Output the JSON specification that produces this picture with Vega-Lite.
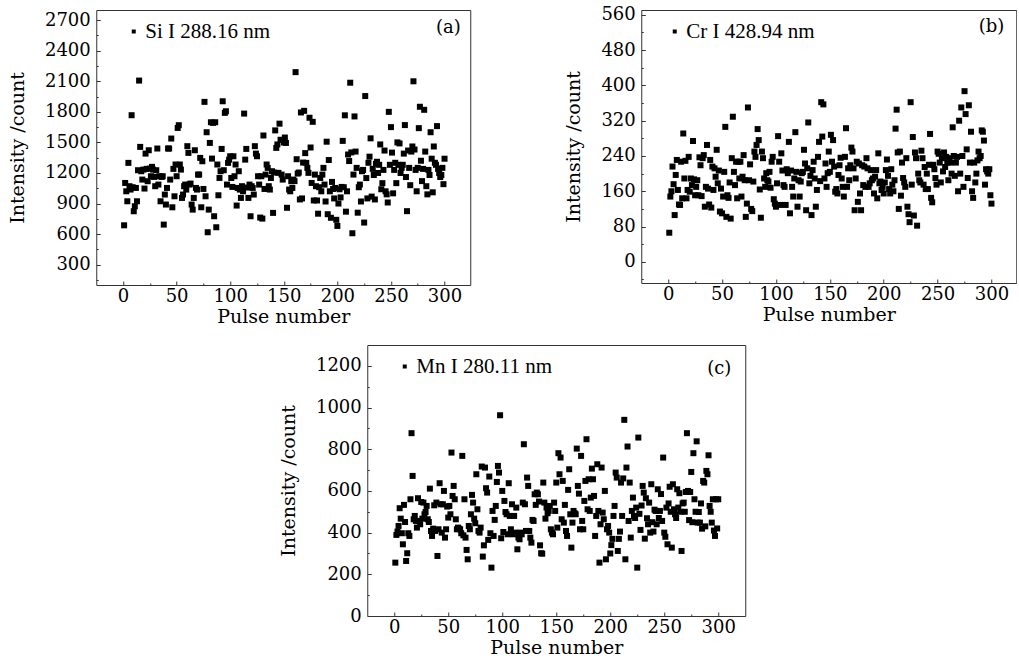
{
"$schema": "https://vega.github.io/schema/vega-lite/v6.json",
"background": "white",
"padding": {"left": 7, "top": 5, "right": 0, "bottom": 0},
"config": {
  "font": "DejaVu Serif",
  "view": {"stroke": "#333", "strokeWidth": 1},
  "axis": {"domain": false, "grid": false, "tickSize": -4, "tickColor": "#333", "tickWidth": 1, "labelFontSize": 18, "labelColor": "#000", "titleFontSize": 19, "titleFontWeight": "normal", "titleColor": "#000", "labelFlush": false, "labelOverlap": false, "format": "d"},
  "axisX": {"titlePadding": 2, "labelPadding": 6},
  "axisY": {"titlePadding": 17, "labelPadding": 10},
  "legend": {"orient": "top-left", "offset": 11, "padding": 0, "symbolType": "square", "symbolSize": 16, "symbolOffset": 16, "labelOffset": 1, "labelFont": "Liberation Serif", "labelFontSize": 21, "labelColor": "#000", "symbolStrokeWidth": 0, "symbolFillColor": "#000"}
},
"datasets": {
"a": [
{"p":1,"v":686},{"p":2,"v":1102},{"p":3,"v":1020},{"p":4,"v":922},{"p":5,"v":1299},{"p":6,"v":1070},{"p":7,"v":1037},{"p":8,"v":1767},{"p":9,"v":1060},{"p":10,"v":824},
{"p":11,"v":873},{"p":12,"v":1053},{"p":13,"v":922},{"p":14,"v":1227},{"p":15,"v":2107},{"p":16,"v":1456},{"p":17,"v":1217},{"p":18,"v":1135},{"p":19,"v":1233},{"p":20,"v":1047},
{"p":21,"v":1390},{"p":22,"v":1240},{"p":23,"v":1119},{"p":24,"v":1423},{"p":25,"v":1243},{"p":26,"v":1168},{"p":27,"v":1260},{"p":28,"v":1233},{"p":29,"v":1161},{"p":30,"v":1070},
{"p":31,"v":1227},{"p":32,"v":1440},{"p":33,"v":1086},{"p":34,"v":1168},{"p":35,"v":922},{"p":36,"v":1161},{"p":37,"v":1168},{"p":38,"v":693},{"p":39,"v":988},{"p":40,"v":890},
{"p":41,"v":1053},{"p":42,"v":1440},{"p":43,"v":1440},{"p":44,"v":1135},{"p":45,"v":1538},{"p":46,"v":863},{"p":47,"v":1240},{"p":48,"v":971},{"p":49,"v":1283},{"p":50,"v":1168},
{"p":51,"v":1642},{"p":52,"v":1669},{"p":53,"v":1283},{"p":54,"v":1233},{"p":55,"v":955},{"p":56,"v":988},{"p":57,"v":1070},{"p":58,"v":1086},{"p":59,"v":1037},{"p":60,"v":1463},
{"p":61,"v":1397},{"p":62,"v":1086},{"p":63,"v":1096},{"p":64,"v":890},{"p":65,"v":840},{"p":66,"v":955},{"p":67,"v":1423},{"p":68,"v":1053},{"p":69,"v":1037},{"p":70,"v":1184},
{"p":71,"v":1184},{"p":72,"v":1348},{"p":73,"v":863},{"p":74,"v":1315},{"p":75,"v":1043},{"p":76,"v":1898},{"p":77,"v":971},{"p":78,"v":1600},{"p":79,"v":618},{"p":80,"v":840},
{"p":81,"v":1495},{"p":82,"v":1698},{"p":83,"v":1341},{"p":84,"v":1692},{"p":85,"v":775},{"p":86,"v":1698},{"p":87,"v":667},{"p":88,"v":1283},{"p":89,"v":981},{"p":90,"v":1151},
{"p":91,"v":1217},{"p":92,"v":1436},{"p":93,"v":1904},{"p":94,"v":1227},{"p":95,"v":1790},{"p":96,"v":1806},{"p":97,"v":1086},{"p":98,"v":1299},{"p":99,"v":1331},{"p":100,"v":1364},
{"p":101,"v":1151},{"p":102,"v":1063},{"p":103,"v":1364},{"p":104,"v":1168},{"p":105,"v":1283},{"p":106,"v":880},{"p":107,"v":1053},{"p":108,"v":1217},{"p":109,"v":1037},{"p":110,"v":955},
{"p":111,"v":1070},{"p":112,"v":1020},{"p":113,"v":1783},{"p":114,"v":1331},{"p":115,"v":1436},{"p":116,"v":1057},{"p":117,"v":955},{"p":118,"v":1086},{"p":119,"v":775},{"p":120,"v":1070},
{"p":121,"v":1053},{"p":122,"v":988},{"p":123,"v":1463},{"p":124,"v":1390},{"p":125,"v":1364},{"p":126,"v":1168},{"p":127,"v":1086},{"p":128,"v":762},{"p":129,"v":1168},{"p":130,"v":752},
{"p":131,"v":1568},{"p":132,"v":1043},{"p":133,"v":1184},{"p":134,"v":1283},{"p":135,"v":1250},{"p":136,"v":1070},{"p":137,"v":1037},{"p":138,"v":1151},{"p":139,"v":1217},{"p":140,"v":808},
{"p":141,"v":1204},{"p":142,"v":1618},{"p":143,"v":1446},{"p":144,"v":1480},{"p":145,"v":1201},{"p":146,"v":1684},{"p":147,"v":1526},{"p":148,"v":1184},{"p":149,"v":1135},{"p":150,"v":1499},
{"p":151,"v":1548},{"p":152,"v":1495},{"p":153,"v":858},{"p":154,"v":1168},{"p":155,"v":1037},{"p":156,"v":1020},{"p":157,"v":1119},{"p":158,"v":1053},{"p":159,"v":1135},{"p":160,"v":1120},
{"p":161,"v":2190},{"p":162,"v":1335},{"p":163,"v":1194},{"p":164,"v":1204},{"p":165,"v":940},{"p":166,"v":1794},{"p":167,"v":950},{"p":168,"v":1302},{"p":169,"v":1810},{"p":170,"v":1395},
{"p":171,"v":1299},{"p":172,"v":1250},{"p":173,"v":1201},{"p":174,"v":1742},{"p":175,"v":1450},{"p":176,"v":1102},{"p":177,"v":1702},{"p":178,"v":930},{"p":179,"v":1184},{"p":180,"v":1070},
{"p":181,"v":930},{"p":182,"v":800},{"p":183,"v":1060},{"p":184,"v":1151},{"p":185,"v":1020},{"p":186,"v":1184},{"p":187,"v":1250},{"p":188,"v":1086},{"p":189,"v":920},{"p":190,"v":1507},
{"p":191,"v":795},{"p":192,"v":1327},{"p":193,"v":1020},{"p":194,"v":760},{"p":195,"v":1112},{"p":196,"v":1043},{"p":197,"v":950},{"p":198,"v":1053},{"p":199,"v":740},{"p":200,"v":680},
{"p":201,"v":900},{"p":202,"v":1040},{"p":203,"v":960},{"p":204,"v":1063},{"p":205,"v":1515},{"p":206,"v":1060},{"p":207,"v":1766},{"p":208,"v":820},{"p":209,"v":1020},{"p":210,"v":1381},
{"p":211,"v":1317},{"p":212,"v":2086},{"p":213,"v":1402},{"p":214,"v":608},{"p":215,"v":1184},{"p":216,"v":1755},{"p":217,"v":1410},{"p":218,"v":1250},{"p":219,"v":810},{"p":220,"v":1060},
{"p":221,"v":1086},{"p":222,"v":920},{"p":223,"v":1217},{"p":224,"v":1230},{"p":225,"v":713},{"p":226,"v":1955},{"p":227,"v":1150},{"p":228,"v":950},{"p":229,"v":1300},{"p":230,"v":1360},
{"p":231,"v":1540},{"p":232,"v":968},{"p":233,"v":1240},{"p":234,"v":1180},{"p":235,"v":940},{"p":236,"v":1290},{"p":237,"v":1310},{"p":238,"v":1200},{"p":239,"v":1280},{"p":240,"v":1480},
{"p":241,"v":1040},{"p":242,"v":1100},{"p":243,"v":1230},{"p":244,"v":1420},{"p":245,"v":1020},{"p":246,"v":990},{"p":247,"v":910},{"p":248,"v":1800},{"p":249,"v":1280},{"p":250,"v":1650},
{"p":251,"v":1400},{"p":252,"v":1000},{"p":253,"v":1230},{"p":254,"v":1300},{"p":255,"v":1100},{"p":256,"v":1500},{"p":257,"v":1280},{"p":258,"v":1490},{"p":259,"v":1200},{"p":260,"v":1250},
{"p":261,"v":1280},{"p":262,"v":1390},{"p":263,"v":1670},{"p":264,"v":1160},{"p":265,"v":825},{"p":266,"v":1420},{"p":267,"v":1250},{"p":268,"v":1080},{"p":269,"v":1410},{"p":270,"v":1460},
{"p":271,"v":2100},{"p":272,"v":1430},{"p":273,"v":1230},{"p":274,"v":1020},{"p":275,"v":1250},{"p":276,"v":1640},{"p":277,"v":1850},{"p":278,"v":1320},{"p":279,"v":1120},{"p":280,"v":1240},
{"p":281,"v":1820},{"p":282,"v":1410},{"p":283,"v":1070},{"p":284,"v":990},{"p":285,"v":1230},{"p":286,"v":1180},{"p":287,"v":1600},{"p":288,"v":1340},{"p":289,"v":1010},{"p":290,"v":1460},
{"p":291,"v":1300},{"p":292,"v":1280},{"p":293,"v":1660},{"p":294,"v":1240},{"p":295,"v":1200},{"p":296,"v":1160},{"p":297,"v":1180},{"p":298,"v":1250},{"p":299,"v":1090},{"p":300,"v":1340}
],
"b": [
{"p":1,"v":66},{"p":2,"v":148},{"p":3,"v":160},{"p":4,"v":216},{"p":5,"v":176},{"p":6,"v":106},{"p":7,"v":197},{"p":8,"v":231},{"p":9,"v":163},{"p":10,"v":130},
{"p":11,"v":129},{"p":12,"v":227},{"p":13,"v":144},{"p":14,"v":291},{"p":15,"v":189},{"p":16,"v":229},{"p":17,"v":144},{"p":18,"v":163},{"p":19,"v":238},{"p":20,"v":159},
{"p":21,"v":189},{"p":22,"v":174},{"p":23,"v":274},{"p":24,"v":187},{"p":25,"v":151},{"p":26,"v":170},{"p":27,"v":185},{"p":28,"v":151},{"p":29,"v":237},{"p":30,"v":219},
{"p":31,"v":149},{"p":32,"v":235},{"p":33,"v":242},{"p":34,"v":125},{"p":35,"v":170},{"p":36,"v":265},{"p":37,"v":166},{"p":38,"v":130},{"p":39,"v":231},{"p":40,"v":123},
{"p":41,"v":216},{"p":42,"v":163},{"p":43,"v":212},{"p":44,"v":193},{"p":45,"v":254},{"p":46,"v":178},{"p":47,"v":207},{"p":48,"v":114},{"p":49,"v":166},{"p":50,"v":110},
{"p":51,"v":148},{"p":52,"v":204},{"p":53,"v":306},{"p":54,"v":102},{"p":55,"v":151},{"p":56,"v":145},{"p":57,"v":180},{"p":58,"v":98},{"p":59,"v":235},{"p":60,"v":329},
{"p":61,"v":204},{"p":62,"v":174},{"p":63,"v":227},{"p":64,"v":144},{"p":65,"v":227},{"p":66,"v":189},{"p":67,"v":227},{"p":68,"v":148},{"p":69,"v":193},{"p":70,"v":242},
{"p":71,"v":185},{"p":72,"v":102},{"p":73,"v":132},{"p":74,"v":350},{"p":75,"v":185},{"p":76,"v":221},{"p":77,"v":120},{"p":78,"v":115},{"p":79,"v":182},{"p":80,"v":250},
{"p":81,"v":238},{"p":82,"v":265},{"p":83,"v":301},{"p":84,"v":276},{"p":85,"v":164},{"p":86,"v":100},{"p":87,"v":250},{"p":88,"v":235},{"p":89,"v":189},{"p":90,"v":170},
{"p":91,"v":201},{"p":92,"v":185},{"p":93,"v":182},{"p":94,"v":204},{"p":95,"v":168},{"p":96,"v":227},{"p":97,"v":238},{"p":98,"v":142},{"p":99,"v":132},{"p":100,"v":125},
{"p":101,"v":178},{"p":102,"v":285},{"p":103,"v":227},{"p":104,"v":129},{"p":105,"v":246},{"p":106,"v":207},{"p":107,"v":174},{"p":108,"v":170},{"p":109,"v":129},{"p":110,"v":210},
{"p":111,"v":201},{"p":112,"v":272},{"p":113,"v":110},{"p":114,"v":207},{"p":115,"v":170},{"p":116,"v":148},{"p":117,"v":189},{"p":118,"v":294},{"p":119,"v":204},{"p":120,"v":125},
{"p":121,"v":185},{"p":122,"v":148},{"p":123,"v":182},{"p":124,"v":201},{"p":125,"v":204},{"p":126,"v":254},{"p":127,"v":223},{"p":128,"v":117},{"p":129,"v":212},{"p":130,"v":316},
{"p":131,"v":178},{"p":132,"v":195},{"p":133,"v":106},{"p":134,"v":208},{"p":135,"v":227},{"p":136,"v":189},{"p":137,"v":125},{"p":138,"v":163},{"p":139,"v":238},{"p":140,"v":272},
{"p":141,"v":183},{"p":142,"v":362},{"p":143,"v":284},{"p":144,"v":357},{"p":145,"v":189},{"p":146,"v":223},{"p":147,"v":170},{"p":148,"v":201},{"p":149,"v":250},{"p":150,"v":204},
{"p":151,"v":288},{"p":152,"v":227},{"p":153,"v":276},{"p":154,"v":216},{"p":155,"v":159},{"p":156,"v":165},{"p":157,"v":155},{"p":158,"v":197},{"p":159,"v":219},{"p":160,"v":236},
{"p":161,"v":189},{"p":162,"v":170},{"p":163,"v":148},{"p":164,"v":238},{"p":165,"v":303},{"p":166,"v":170},{"p":167,"v":212},{"p":168,"v":185},{"p":169,"v":219},{"p":170,"v":259},
{"p":171,"v":250},{"p":172,"v":212},{"p":173,"v":117},{"p":174,"v":189},{"p":175,"v":227},{"p":176,"v":136},{"p":177,"v":223},{"p":178,"v":155},{"p":179,"v":117},{"p":180,"v":219},
{"p":181,"v":174},{"p":182,"v":216},{"p":183,"v":170},{"p":184,"v":235},{"p":185,"v":212},{"p":186,"v":170},{"p":187,"v":178},{"p":188,"v":208},{"p":189,"v":185},{"p":190,"v":189},
{"p":191,"v":155},{"p":192,"v":193},{"p":193,"v":208},{"p":194,"v":144},{"p":195,"v":246},{"p":196,"v":178},{"p":197,"v":182},{"p":198,"v":163},{"p":199,"v":170},{"p":200,"v":155},
{"p":201,"v":180},{"p":202,"v":208},{"p":203,"v":232},{"p":204,"v":195},{"p":205,"v":165},{"p":206,"v":155},{"p":207,"v":210},{"p":208,"v":175},{"p":209,"v":160},{"p":210,"v":185},
{"p":211,"v":302},{"p":212,"v":345},{"p":213,"v":248},{"p":214,"v":120},{"p":215,"v":250},{"p":216,"v":150},{"p":217,"v":225},{"p":218,"v":190},{"p":219,"v":180},{"p":220,"v":170},
{"p":221,"v":235},{"p":222,"v":125},{"p":223,"v":108},{"p":224,"v":90},{"p":225,"v":362},{"p":226,"v":175},{"p":227,"v":283},{"p":228,"v":105},{"p":229,"v":248},{"p":230,"v":235},
{"p":231,"v":82},{"p":232,"v":200},{"p":233,"v":185},{"p":234,"v":180},{"p":235,"v":252},{"p":236,"v":235},{"p":237,"v":175},{"p":238,"v":215},{"p":239,"v":165},{"p":240,"v":200},
{"p":241,"v":165},{"p":242,"v":220},{"p":243,"v":290},{"p":244,"v":145},{"p":245,"v":135},{"p":246,"v":220},{"p":247,"v":210},{"p":248,"v":190},{"p":249,"v":175},{"p":250,"v":250},
{"p":251,"v":245},{"p":252,"v":225},{"p":253,"v":180},{"p":254,"v":235},{"p":255,"v":205},{"p":256,"v":248},{"p":257,"v":215},{"p":258,"v":238},{"p":259,"v":225},{"p":260,"v":185},
{"p":261,"v":235},{"p":262,"v":225},{"p":263,"v":200},{"p":264,"v":305},{"p":265,"v":240},{"p":266,"v":195},{"p":267,"v":225},{"p":268,"v":238},{"p":269,"v":160},{"p":270,"v":320},
{"p":271,"v":200},{"p":272,"v":350},{"p":273,"v":240},{"p":274,"v":170},{"p":275,"v":387},{"p":276,"v":335},{"p":277,"v":255},{"p":278,"v":190},{"p":279,"v":355},{"p":280,"v":225},
{"p":281,"v":295},{"p":282,"v":160},{"p":283,"v":145},{"p":284,"v":225},{"p":285,"v":180},{"p":286,"v":200},{"p":287,"v":230},{"p":288,"v":250},{"p":289,"v":235},{"p":290,"v":240},
{"p":291,"v":298},{"p":292,"v":295},{"p":293,"v":275},{"p":294,"v":175},{"p":295,"v":210},{"p":296,"v":205},{"p":297,"v":200},{"p":298,"v":210},{"p":299,"v":151},{"p":300,"v":132}
],
"c": [
{"p":1,"v":256},{"p":2,"v":389},{"p":3,"v":405},{"p":4,"v":432},{"p":5,"v":517},{"p":6,"v":467},{"p":7,"v":397},{"p":8,"v":344},{"p":9,"v":533},{"p":10,"v":451},
{"p":11,"v":264},{"p":12,"v":301},{"p":13,"v":397},{"p":14,"v":384},{"p":15,"v":560},{"p":16,"v":877},{"p":17,"v":672},{"p":18,"v":464},{"p":19,"v":480},{"p":20,"v":456},
{"p":21,"v":424},{"p":22,"v":565},{"p":23,"v":456},{"p":24,"v":440},{"p":25,"v":547},{"p":26,"v":467},{"p":27,"v":544},{"p":28,"v":488},{"p":29,"v":499},{"p":30,"v":528},
{"p":31,"v":464},{"p":32,"v":451},{"p":33,"v":611},{"p":34,"v":408},{"p":35,"v":384},{"p":36,"v":419},{"p":37,"v":531},{"p":38,"v":408},{"p":39,"v":544},{"p":40,"v":288},
{"p":41,"v":416},{"p":42,"v":637},{"p":43,"v":536},{"p":44,"v":400},{"p":45,"v":536},{"p":46,"v":600},{"p":47,"v":376},{"p":48,"v":416},{"p":49,"v":525},{"p":50,"v":472},
{"p":51,"v":528},{"p":52,"v":488},{"p":53,"v":784},{"p":54,"v":576},{"p":55,"v":624},{"p":56,"v":560},{"p":57,"v":464},{"p":58,"v":416},{"p":59,"v":424},{"p":60,"v":419},
{"p":61,"v":416},{"p":62,"v":397},{"p":63,"v":768},{"p":64,"v":387},{"p":65,"v":560},{"p":66,"v":376},{"p":67,"v":317},{"p":68,"v":272},{"p":69,"v":432},{"p":70,"v":416},
{"p":71,"v":488},{"p":72,"v":581},{"p":73,"v":544},{"p":74,"v":467},{"p":75,"v":445},{"p":76,"v":680},{"p":77,"v":512},{"p":78,"v":408},{"p":79,"v":400},{"p":80,"v":424},
{"p":81,"v":717},{"p":82,"v":285},{"p":83,"v":339},{"p":84,"v":712},{"p":85,"v":613},{"p":86,"v":592},{"p":87,"v":365},{"p":88,"v":669},{"p":89,"v":397},{"p":90,"v":232},
{"p":91,"v":504},{"p":92,"v":384},{"p":93,"v":461},{"p":94,"v":528},{"p":95,"v":643},{"p":96,"v":720},{"p":97,"v":688},{"p":98,"v":963},{"p":99,"v":373},{"p":100,"v":600},
{"p":101,"v":403},{"p":102,"v":552},{"p":103,"v":499},{"p":104,"v":488},{"p":105,"v":392},{"p":106,"v":637},{"p":107,"v":480},{"p":108,"v":416},{"p":109,"v":536},{"p":110,"v":392},
{"p":111,"v":480},{"p":112,"v":400},{"p":113,"v":520},{"p":114,"v":320},{"p":115,"v":376},{"p":116,"v":368},{"p":117,"v":400},{"p":118,"v":392},{"p":119,"v":544},{"p":120,"v":824},
{"p":121,"v":536},{"p":122,"v":408},{"p":123,"v":664},{"p":124,"v":624},{"p":125,"v":408},{"p":126,"v":376},{"p":127,"v":352},{"p":128,"v":461},{"p":129,"v":456},{"p":130,"v":584},
{"p":131,"v":533},{"p":132,"v":592},{"p":133,"v":584},{"p":134,"v":549},{"p":135,"v":339},{"p":136,"v":301},{"p":137,"v":299},{"p":138,"v":640},{"p":139,"v":544},{"p":140,"v":467},
{"p":141,"v":520},{"p":142,"v":493},{"p":143,"v":504},{"p":144,"v":528},{"p":145,"v":416},{"p":146,"v":400},{"p":147,"v":392},{"p":148,"v":544},{"p":149,"v":504},{"p":150,"v":640},
{"p":151,"v":424},{"p":152,"v":781},{"p":153,"v":680},{"p":154,"v":760},{"p":155,"v":464},{"p":156,"v":648},{"p":157,"v":448},{"p":158,"v":533},{"p":159,"v":408},{"p":160,"v":384},
{"p":161,"v":605},{"p":162,"v":704},{"p":163,"v":488},{"p":164,"v":328},{"p":165,"v":448},{"p":166,"v":504},{"p":167,"v":493},{"p":168,"v":488},{"p":169,"v":803},{"p":170,"v":624},
{"p":171,"v":587},{"p":172,"v":416},{"p":173,"v":768},{"p":174,"v":456},{"p":175,"v":416},{"p":176,"v":552},{"p":177,"v":648},{"p":178,"v":848},{"p":179,"v":512},{"p":180,"v":656},
{"p":181,"v":504},{"p":182,"v":568},{"p":183,"v":707},{"p":184,"v":656},{"p":185,"v":576},{"p":186,"v":384},{"p":187,"v":480},{"p":188,"v":728},{"p":189,"v":504},{"p":190,"v":256},
{"p":191,"v":440},{"p":192,"v":712},{"p":193,"v":496},{"p":194,"v":464},{"p":195,"v":600},{"p":196,"v":272},{"p":197,"v":416},{"p":198,"v":432},{"p":199,"v":400},{"p":200,"v":300},
{"p":201,"v":340},{"p":202,"v":370},{"p":203,"v":480},{"p":204,"v":528},{"p":205,"v":688},{"p":206,"v":664},{"p":207,"v":312},{"p":208,"v":370},{"p":209,"v":405},{"p":210,"v":640},
{"p":211,"v":480},{"p":212,"v":660},{"p":213,"v":941},{"p":214,"v":272},{"p":215,"v":712},{"p":216,"v":813},{"p":217,"v":456},{"p":218,"v":640},{"p":219,"v":376},{"p":220,"v":504},
{"p":221,"v":568},{"p":222,"v":480},{"p":223,"v":470},{"p":224,"v":520},{"p":225,"v":232},{"p":226,"v":856},{"p":227,"v":490},{"p":228,"v":413},{"p":229,"v":530},{"p":230,"v":624},
{"p":231,"v":592},{"p":232,"v":371},{"p":233,"v":565},{"p":234,"v":469},{"p":235,"v":440},{"p":236,"v":544},{"p":237,"v":400},{"p":238,"v":632},{"p":239,"v":450},{"p":240,"v":405},
{"p":241,"v":510},{"p":242,"v":504},{"p":243,"v":440},{"p":244,"v":608},{"p":245,"v":470},{"p":246,"v":504},{"p":247,"v":585},{"p":248,"v":456},{"p":249,"v":760},{"p":250,"v":400},
{"p":251,"v":380},{"p":252,"v":520},{"p":253,"v":344},{"p":254,"v":540},{"p":255,"v":620},{"p":256,"v":500},{"p":257,"v":328},{"p":258,"v":632},{"p":259,"v":512},{"p":260,"v":488},
{"p":261,"v":470},{"p":262,"v":608},{"p":263,"v":520},{"p":264,"v":589},{"p":265,"v":500},{"p":266,"v":312},{"p":267,"v":540},{"p":268,"v":544},{"p":269,"v":500},{"p":270,"v":595},
{"p":271,"v":877},{"p":272,"v":600},{"p":273,"v":460},{"p":274,"v":595},{"p":275,"v":691},{"p":276,"v":450},{"p":277,"v":781},{"p":278,"v":560},{"p":279,"v":500},{"p":280,"v":838},
{"p":281,"v":448},{"p":282,"v":499},{"p":283,"v":448},{"p":284,"v":540},{"p":285,"v":419},{"p":286,"v":648},{"p":287,"v":640},{"p":288,"v":430},{"p":289,"v":696},{"p":290,"v":680},
{"p":291,"v":771},{"p":292,"v":528},{"p":293,"v":500},{"p":294,"v":448},{"p":295,"v":560},{"p":296,"v":410},{"p":297,"v":384},{"p":298,"v":560},{"p":299,"v":420},{"p":300,"v":560}
],
"la": [{"t": "(a)"}],
"lb": [{"t": "(b)"}],
"lc": [{"t": "(c)"}]
},
"vconcat": [
{
 "hconcat": [
  {
   "width": 374, "height": 275,
   "layer": [
    {"data": {"name": "a"}, "mark": {"type": "square", "size": 36, "color": "#000", "opacity": 1},
     "encoding": {
      "x": {"field": "p", "type": "quantitative", "scale": {"domain": [-25, 324], "nice": false, "zero": false}, "axis": {"orient": "bottom", "title": "Pulse number", "values": [0,50,100,150,200,250,300]}},
      "y": {"field": "v", "type": "quantitative", "scale": {"domain": [100, 2800], "nice": false, "zero": false}, "axis": {"orient": "left", "title": "Intensity /count", "values": [300,600,900,1200,1500,1800,2100,2400,2700]}},
      "color": {"datum": "Si I 288.16 nm", "type": "nominal", "scale": {"range": ["#000"]}, "legend": {"title": null}}
     }},
    {"data": {"name": "a"}, "mark": {"type": "square", "opacity": 0},
     "encoding": {
      "x": {"field": "p", "type": "quantitative", "axis": {"orient": "bottom", "values": [25,75,125,175,225,275], "labels": false, "title": null, "tickSize": -2}},
      "y": {"field": "v", "type": "quantitative", "axis": {"orient": "left", "values": [150,450,750,1050,1350,1650,1950,2250,2550], "labels": false, "title": null, "tickSize": -2}}
     }},
    {"data": {"name": "la"}, "mark": {"type": "text", "fontSize": 18, "color": "#000", "align": "center", "baseline": "middle"},
     "encoding": {"x": {"datum": 303.5, "type": "quantitative", "axis": null}, "y": {"datum": 2625, "type": "quantitative", "axis": null}, "text": {"field": "t"}}}
   ],
   "resolve": {"axis": {"x": "independent", "y": "independent"}}
  },
  {
   "width": 375, "height": 273,
   "layer": [
    {"data": {"name": "b"}, "mark": {"type": "square", "size": 36, "color": "#000", "opacity": 1},
     "encoding": {
      "x": {"field": "p", "type": "quantitative", "scale": {"domain": [-25, 323], "nice": false, "zero": false}, "axis": {"orient": "bottom", "title": "Pulse number", "values": [0,50,100,150,200,250,300]}},
      "y": {"field": "v", "type": "quantitative", "scale": {"domain": [-48, 571], "nice": false, "zero": false}, "axis": {"orient": "left", "title": "Intensity /count", "values": [0,80,160,240,320,400,480,560]}},
      "color": {"datum": "Cr I 428.94 nm", "type": "nominal", "scale": {"range": ["#000"]}, "legend": {"title": null, "symbolOffset": 12}}
     }},
    {"data": {"name": "b"}, "mark": {"type": "square", "opacity": 0},
     "encoding": {
      "x": {"field": "p", "type": "quantitative", "axis": {"orient": "bottom", "values": [25,75,125,175,225,275], "labels": false, "title": null, "tickSize": -2}},
      "y": {"field": "v", "type": "quantitative", "axis": {"orient": "left", "values": [-40,40,120,200,280,360,440,520], "labels": false, "title": null, "tickSize": -2}}
     }},
    {"data": {"name": "lb"}, "mark": {"type": "text", "fontSize": 18, "color": "#000", "align": "center", "baseline": "middle"},
     "encoding": {"x": {"datum": 300, "type": "quantitative", "axis": null}, "y": {"datum": 533, "type": "quantitative", "axis": null}, "text": {"field": "t"}}}
   ],
   "resolve": {"axis": {"x": "independent", "y": "independent"}}
  }
 ],
 "spacing": 93,
 "resolve": {"scale": {"color": "independent"}, "legend": {"color": "independent"}}
},
{
 "width": 378, "height": 271,
 "layer": [
  {"data": {"name": "c"}, "mark": {"type": "square", "size": 36, "color": "#000", "opacity": 1},
   "encoding": {
    "x": {"field": "p", "type": "quantitative", "scale": {"domain": [-25, 325], "nice": false, "zero": false}, "axis": {"orient": "bottom", "title": "Pulse number", "values": [0,50,100,150,200,250,300]}},
    "y": {"field": "v", "type": "quantitative", "scale": {"domain": [0, 1300], "nice": false, "zero": false}, "axis": {"orient": "left", "title": "Intensity /count", "values": [0,200,400,600,800,1000,1200]}},
    "color": {"datum": "Mn I 280.11 nm", "type": "nominal", "scale": {"range": ["#000"]}, "legend": {"title": null}}
   }},
  {"data": {"name": "c"}, "mark": {"type": "square", "opacity": 0},
   "encoding": {
    "x": {"field": "p", "type": "quantitative", "axis": {"orient": "bottom", "values": [25,75,125,175,225,275], "labels": false, "title": null, "tickSize": -2}},
    "y": {"field": "v", "type": "quantitative", "axis": {"orient": "left", "values": [100,300,500,700,900,1100], "labels": false, "title": null, "tickSize": -2}}
   }},
  {"data": {"name": "lc"}, "mark": {"type": "text", "fontSize": 18, "color": "#000", "align": "center", "baseline": "middle"},
   "encoding": {"x": {"datum": 301, "type": "quantitative", "axis": null}, "y": {"datum": 1185, "type": "quantitative", "axis": null}, "text": {"field": "t"}}}
 ],
 "resolve": {"axis": {"x": "independent", "y": "independent"}}
}
],
"spacing": 17,
"center": true,
"resolve": {"scale": {"color": "independent"}, "legend": {"color": "independent"}}
}
